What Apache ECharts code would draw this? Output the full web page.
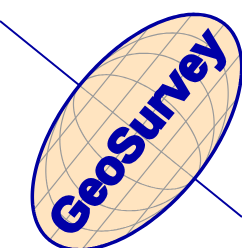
<!DOCTYPE html>
<html>
<head>
<meta charset="utf-8">
<script src="https://cdn.jsdelivr.net/npm/echarts@6/dist/echarts.min.js"></script>
<style>
html,body{margin:0;padding:0;background:#fff;}
#chart{width:242px;height:248px;}
</style>
</head>
<body>
<div id="chart"></div>
<script>
// ---- data ----
const TITLE = ['GeoSurvey'];
const MERIDIANS = [-54, -36, -18, 0, 18, 36, 54];   // longitudes (deg)
const PARALLELS = [-50, -25, 0, 25, 50];            // latitudes (deg)
const FRAME = [[0, 242], [0, 248]];                 // axis ranges

// ---- geometry (layout) ----
const CX = 137, CY = 132, SA = 139, SB = 74, ANG = 51 * Math.PI / 180;
const U = [Math.cos(ANG), -Math.sin(ANG)];   // major axis direction (screen)
const V = [Math.sin(ANG), Math.cos(ANG)];    // minor axis direction (towards south pole)

const chart = echarts.init(document.getElementById('chart'), null, {renderer: 'canvas'});

function renderItem(params, api) {
  const P = (u, v) => api.coord([CX + SA * u * U[0] + SB * v * V[0], CY + SA * u * U[1] + SB * v * V[1]]);
  const children = [];
  // axis line through poles (behind globe)
  const v0 = (FRAME[0][0] - CX) / (SB * V[0]);
  const v1 = (FRAME[0][1] - CX) / (SB * V[0]);
  children.push({type: 'line', shape: (function(){const a=P(0,v0), b=P(0,v1); return {x1:a[0],y1:a[1],x2:b[0],y2:b[1]};})(),
    style: {stroke: '#0000A0', lineWidth: 2}});
  // globe fill
  const ell = [];
  for (let i = 0; i < 240; i++) { const t = i / 240 * Math.PI * 2; ell.push(P(Math.cos(t), Math.sin(t))); }
  children.push({type: 'polygon', shape: {points: ell}, style: {fill: '#FFE4C0', stroke: null}});
  // meridians
  MERIDIANS.forEach(function (lon) {
    const s = Math.sin(lon * Math.PI / 180), pts = [];
    for (let i = 0; i <= 90; i++) { const p = (-90 + i * 2) * Math.PI / 180; pts.push(P(Math.cos(p) * s, -Math.sin(p))); }
    children.push({type: 'polyline', shape: {points: pts}, style: {stroke: '#9a9a9a', lineWidth: 1.2, fill: null}});
  });
  // parallels
  PARALLELS.forEach(function (lat) {
    const r = lat * Math.PI / 180, c = Math.cos(r), v = -Math.sin(r);
    children.push({type: 'polyline', shape: {points: [P(-c, v), P(c, v)]}, style: {stroke: '#9a9a9a', lineWidth: 1.2, fill: null}});
  });
  // outline
  children.push({type: 'polygon', shape: {points: ell}, style: {fill: null, stroke: '#0000A0', lineWidth: 3.5}});
  // title
  const c = P(0, 0.04);
  children.push({type: 'text', x: c[0], y: c[1], rotation: ANG,
    style: {text: TITLE[0], fill: '#0000A8', stroke: '#0000A8', lineWidth: 3, lineJoin: 'round',
      font: 'bold 47px "Liberation Sans", Arial, sans-serif', align: 'center', verticalAlign: 'middle'}});
  return {type: 'group', children: children};
}

chart.setOption({
  animation: false,
  grid: {left: 0, right: 0, top: 0, bottom: 0},
  xAxis: {type: 'value', min: FRAME[0][0], max: FRAME[0][1], show: false},
  yAxis: {type: 'value', min: FRAME[1][0], max: FRAME[1][1], inverse: true, show: false},
  series: [{type: 'custom', renderItem: renderItem, clip: false, data: [[0, 0]], silent: true}]
});
</script>
</body>
</html>
